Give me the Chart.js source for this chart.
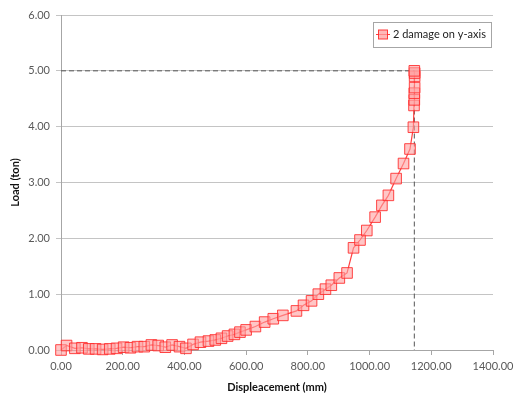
<!DOCTYPE html>
<html>
<head>
<meta charset="utf-8">
<script src="https://cdn.jsdelivr.net/npm/chart.js@4.4.1/dist/chart.umd.min.js"></script>
<style>
  html, body { margin: 0; padding: 0; background: #fff; }
</style>
</head>
<body>
<canvas id="chart" width="520" height="400"></canvas>
<script>
// Load–displacement record, damage case 2 (y-axis)
const displacementMm = [
  0, 18, 45, 68, 90, 112, 135, 158, 180, 203, 225, 248, 270, 293, 315, 338, 360, 384, 405, 428,
  452, 478, 500, 520, 540, 562, 580, 600, 630, 660, 688, 719, 763, 786, 812, 834, 857, 876, 902, 927,
  948, 969, 991, 1018, 1040, 1061, 1086, 1110, 1131, 1142, 1144, 1145, 1145, 1146, 1146, 1146, 1145
];
const loadTon = [
  0.00, 0.08, 0.03, 0.04, 0.02, 0.02, 0.01, 0.02, 0.03, 0.05, 0.04, 0.06, 0.06, 0.09, 0.08, 0.05, 0.09, 0.06, 0.03, 0.10,
  0.14, 0.16, 0.18, 0.21, 0.25, 0.28, 0.32, 0.36, 0.42, 0.50, 0.56, 0.62, 0.70, 0.80, 0.88, 1.00, 1.09, 1.16, 1.29, 1.38,
  1.83, 1.97, 2.14, 2.38, 2.59, 2.77, 3.07, 3.34, 3.60, 3.99, 4.38, 4.48, 4.60, 4.70, 4.90, 4.96, 5.00
];
const xTickValues = [0, 200, 400, 600, 800, 1000, 1200, 1400];
const yTickValues = [0, 1, 2, 3, 4, 5, 6];
const seriesName = '2 damage on y-axis';
const xTitle = 'Displeacement (mm)';
const yTitle = 'Load (ton)';

// Peak point used for the dashed guide lines
const peakLoad = Math.max(...loadTon);
const peakDisp = displacementMm[loadTon.indexOf(peakLoad)];

const seriesPoints = displacementMm.map((x, i) => ({ x, y: loadTon[i] }));
const guidePoints = [
  { x: 0, y: peakLoad },
  { x: peakDisp, y: peakLoad },
  { x: peakDisp, y: 0 }
];

const FONT = 'Lato, "Liberation Sans", sans-serif';

// Boxed legend in the top-right corner of the plot
const boxedLegend = {
  id: 'boxedLegend',
  afterDraw(chart) {
    const ctx = chart.ctx;
    const area = chart.chartArea;
    const w = 118, h = 25;
    const x = area.right - w - 2, y = area.top + 7;
    ctx.save();
    ctx.fillStyle = '#ffffff';
    ctx.fillRect(x, y, w, h);
    ctx.strokeStyle = '#a6a6a6';
    ctx.lineWidth = 1;
    ctx.strokeRect(x + 0.5, y + 0.5, w, h);
    const cy = y + h / 2;
    ctx.strokeStyle = 'rgba(255,40,40,0.9)';
    ctx.beginPath();
    ctx.moveTo(x + 3, cy);
    ctx.lineTo(x + 17, cy);
    ctx.stroke();
    ctx.fillStyle = 'rgba(255,160,160,0.75)';
    ctx.fillRect(x + 5.5, cy - 4.5, 9, 9);
    ctx.strokeStyle = 'rgba(255,40,40,0.9)';
    ctx.strokeRect(x + 5.5, cy - 4.5, 9, 9);
    ctx.fillStyle = '#222';
    ctx.font = '11px ' + FONT;
    ctx.textBaseline = 'middle';
    ctx.textAlign = 'left';
    ctx.fillText(seriesName, x + 20, cy);
    ctx.restore();
  }
};

new Chart(document.getElementById('chart'), {
  type: 'scatter',
  data: {
    datasets: [
      {
        label: seriesName,
        data: seriesPoints,
        showLine: true,
        borderColor: 'rgba(255,30,30,0.85)',
        borderWidth: 1.2,
        pointStyle: 'rect',
        pointRadius: 7.5,
        pointHoverRadius: 7.5,
        pointBackgroundColor: 'rgba(255,160,160,0.6)',
        pointBorderColor: 'rgba(255,40,40,0.85)',
        pointBorderWidth: 1,
        clip: false
      },
      {
        label: 'peak guide',
        data: guidePoints,
        showLine: true,
        borderColor: '#555555',
        borderWidth: 1,
        borderDash: [5, 3],
        pointRadius: 0,
        pointHoverRadius: 0
      }
    ]
  },
  options: {
    responsive: false,
    animation: false,
    layout: { padding: { left: 0, right: 27, top: 15, bottom: 0 } },
    plugins: {
      legend: { display: false },
      tooltip: { enabled: false }
    },
    scales: {
      x: {
        type: 'linear',
        min: xTickValues[0],
        max: xTickValues[xTickValues.length - 1],
        afterBuildTicks(scale) { scale.ticks = xTickValues.map(v => ({ value: v })); },
        afterFit(scale) { scale.height = 50; },
        ticks: {
          callback: v => Number(v).toFixed(2),
          color: '#595959',
          font: { family: FONT, size: 11 },
          padding: 5,
          maxRotation: 0
        },
        grid: { drawOnChartArea: false, drawTicks: true, tickLength: 5, color: '#a6a6a6' },
        border: { display: true, color: '#a6a6a6' },
        title: {
          display: true,
          text: xTitle,
          color: '#111',
          font: { family: FONT, size: 11, weight: 'bold' },
          padding: { top: 6, bottom: 6 }
        }
      },
      y: {
        type: 'linear',
        min: yTickValues[0],
        max: yTickValues[yTickValues.length - 1],
        afterBuildTicks(scale) { scale.ticks = yTickValues.map(v => ({ value: v })); },
        afterFit(scale) { scale.width = 61; },
        ticks: {
          callback: v => Number(v).toFixed(2),
          color: '#595959',
          font: { family: FONT, size: 11 },
          padding: 6
        },
        grid: { drawOnChartArea: true, drawTicks: true, tickLength: 5, color: '#c4c4c4' },
        border: { display: true, color: '#a6a6a6' },
        title: {
          display: true,
          text: yTitle,
          color: '#111',
          font: { family: FONT, size: 11, weight: 'bold' },
          padding: { top: 9, bottom: 9 }
        }
      }
    }
  },
  plugins: [boxedLegend]
});
</script>
</body>
</html>
